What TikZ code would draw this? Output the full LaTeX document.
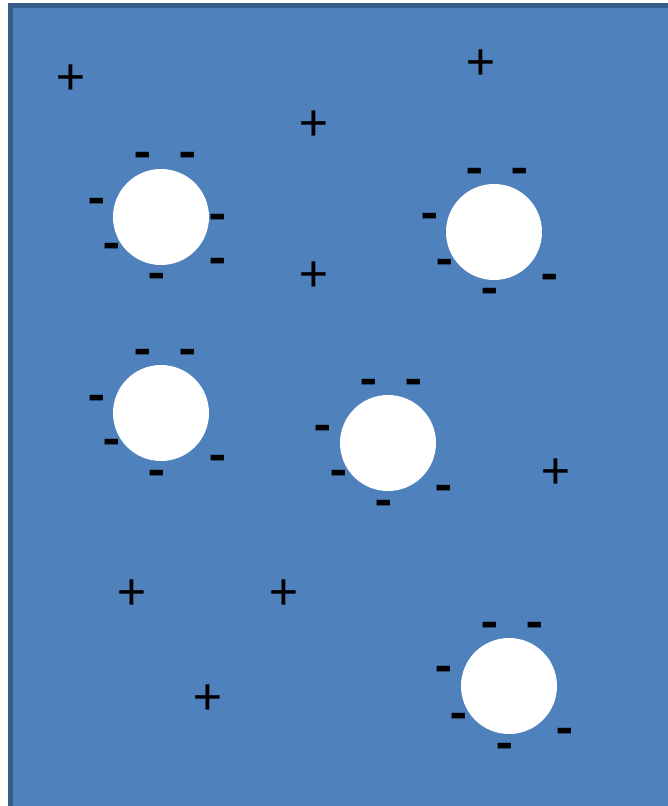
\documentclass[tikz,border=0pt]{standalone}
\usepackage{fontspec}
\setmainfont{Carlito}
\definecolor{boxfill}{HTML}{4F81BD}
\definecolor{boxline}{HTML}{385D8A}
\begin{document}
\begin{tikzpicture}[x=1pt,y=-1pt,
  pore/.style={circle,fill=white,minimum size=96pt,inner sep=0pt},
  chg/.style={inner sep=0pt,font=\fontsize{54}{54}\selectfont,text=black},
  neg/.style={chg,font=\fontsize{54}{54}\selectfont\bfseries,text height=33pt,text depth=0pt},
  posi/.style={chg,text height=37pt,text depth=0pt,xshift=1pt}]
\useasboundingbox (0,0) rectangle (667,806);
\fill[white] (0,0) rectangle (667,806);
\draw[boxline,fill=boxfill,line width=5pt] (10.5,5.5) rectangle (690,808.5);
% pores
\node[pore] (c1) at (161,217) {};
\node[pore] (c2) at (494,232) {};
\node[pore] (c3) at (161,413) {};
\node[pore] (c4) at (388,443) {};
\node[pore] (c5) at (509,686) {};
% minus signs
\foreach \n/\x/\y in {a1/143/154, a2/188/154, a3/97/200, a4/218/216, a5/112/245, a6/218/260, a7/157/275,
  b1/475/170, b2/520/170, b3/430/215, b4/445/261, b5/490/290, b6/550/276,
  d1/143/351, d2/188/351, d3/97/397, d4/112/441, d5/157/472, d6/218/457,
  e1/369/381, e2/414/381, e3/323/427, e4/339/472, e5/384/502, e6/444/487,
  f1/490/624, f2/535/624, f3/444/668, f4/459/715, f5/505/745, f6/565/730}
  \node[neg] (m\n) at (\x,\y) {-};
% plus signs
\foreach \n/\x/\y in {1/70/76, 2/480/61, 3/313/122, 4/313/273, 5/555/470, 6/131/591, 7/283/591, 8/207/696}
  \node[posi] (p\n) at (\x,\y) {+};
\end{tikzpicture}
\end{document}
